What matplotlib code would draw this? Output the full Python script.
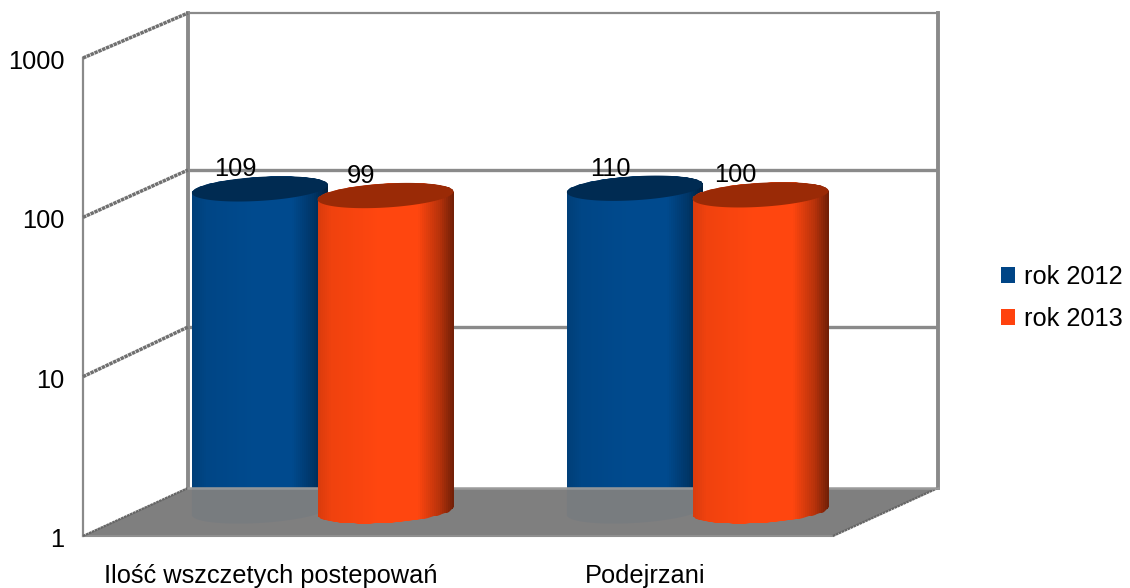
import numpy as np
import matplotlib
matplotlib.use("Agg")
import matplotlib.pyplot as plt
from matplotlib.path import Path
from matplotlib.patches import PathPatch, Patch, Polygon
from matplotlib.transforms import IdentityTransform, Affine2D

categories = ["Ilość wszczetych postepowań", "Podejrzani"]
rok2012 = [109, 110]
rok2013 = [99, 100]
yTicks = [1, 10, 100, 1000]
seriesNames = ["rok 2012", "rok 2013"]

plt.rcParams["font.family"] = ["Liberation Sans", "DejaVu Sans"]

W, H = 1130, 588
GRAY = "#8a8a8a"
FLOOR = "#7f7f7f"
FS = 18.3


def axesAt(fig, left, top, right, bottom):
    return fig.add_axes([left / W, 1 - bottom / H, (right - left) / W, (bottom - top) / H])


fig = plt.figure(figsize=(W / 100, H / 100), dpi=100, facecolor="white")

# dwie osie: sciana tylna i plaszczyzna przednia (efekt 3D)
back = axesAt(fig, 188, 13, 938, 488)
front = axesAt(fig, 83, 58, 833, 536)
for a in (back, front):
    a.set_yscale("log")
    a.set_xlim(0, 2)
    a.minorticks_off()
    a.patch.set_visible(False)
    for s in a.spines.values():
        s.set_visible(False)
back.set_ylim(10 ** (-4 / 157), yTicks[-1])
front.set_ylim(yTicks[0], yTicks[-1])
back.set_zorder(1)
front.set_zorder(2)
back.set_xticks([])
back.set_yticks([])

front.set_yticks(yTicks)
front.set_yticklabels([str(v) for v in yTicks], fontsize=FS)
front.set_xticks([0.5, 1.5])
front.set_xticklabels(categories, fontsize=FS)
front.tick_params(axis="y", length=0, pad=13.5)
front.tick_params(axis="x", length=0, pad=20.5)
for lab in front.get_yticklabels():
    lab.set_transform(lab.get_transform() + Affine2D().translate(0, -1.5))

# sciana tylna
floorBack = back.get_ylim()[0]
for v in yTicks[1:-1]:
    back.plot([0, 2], [v, v], color=GRAY, lw=2.4, clip_on=False, solid_capstyle="butt")
back.plot([0, 2], [1000, 1000], color=GRAY, lw=1.6, clip_on=False)
back.plot([0, 0], [floorBack, 1000], color=GRAY, lw=2.8, clip_on=False)
back.plot([2, 2], [floorBack, 1000], color=GRAY, lw=2.8, clip_on=False)

pix = front.transData.transform
pixBack = back.transData.transform

# sciana boczna
front.plot([0, 0], [1, 1000], color=GRAY, lw=1.6, clip_on=False, zorder=1)
for v in yTicks[1:]:
    p0 = pix((0, v))
    p1 = pixBack((0, v))
    front.plot([p0[0], p1[0]], [p0[1], p1[1]], color="#707070", lw=2.5, ls=(0, (1.0, 0.2)),
               transform=IdentityTransform(), clip_on=False, zorder=1)

floorPts = [pix((0, 1)), pix((2, 1)), pixBack((2, floorBack)), pixBack((0, floorBack))]

CENTERS = [[0.325, 1.325], [0.660, 1.660]]
SHIFT_X = 55
SHIFT_BASE = 25
SHIFT_TOP = 22.5
RX, RY, TILT = 68, 12, 4
rampPos = [0.0, 0.10, 0.45, 0.74, 0.90, 1.0]
rampVal = [0.85, 0.94, 1.0, 1.0, 0.72, 0.45]


def ellipsePoints(cx, cy, t):
    return np.column_stack([cx + RX * np.cos(t), cy + RY * np.sin(t) + TILT * np.cos(t)])


def cylinder(xc, value, color, topColor, z):
    base = pix((xc, 1)) + (SHIFT_X, SHIFT_BASE)
    top = pix((xc, value)) + (SHIFT_X, SHIFT_TOP)
    lower = ellipsePoints(base[0], base[1], np.linspace(np.pi, 2 * np.pi, 50))
    upper = ellipsePoints(top[0], top[1], np.linspace(0, np.pi, 50))
    bodyPath = Path(np.vstack([lower, upper, lower[:1]]))

    rgb = np.array(matplotlib.colors.to_rgb(color))
    xs = np.linspace(base[0] - RX, base[0] + RX, 70)
    shade = np.interp(np.linspace(0, 1, 69), rampPos, rampVal)
    colors = np.clip(shade[None, :, None] * rgb, 0, 1)
    ys = [base[1] - RY - TILT - 2, top[1] + RY + TILT + 2]
    clip = PathPatch(bodyPath, transform=IdentityTransform(), fc="none", ec="none")
    front.add_patch(clip)
    mesh = front.pcolormesh(xs, ys, colors, transform=IdentityTransform(), zorder=z, shading="flat")
    mesh.set_clip_path(clip)

    # pokrywa walca
    capPts = ellipsePoints(top[0], top[1], np.linspace(0, 2 * np.pi, 100))
    front.add_patch(Polygon(capPts, closed=True, transform=IdentityTransform(), fc=topColor,
                            ec="none", zorder=z + 0.1, clip_on=False))
    return bodyPath


# niebieskie walce sa za podloga, pomaranczowe przed nia
bluePaths = []
for xc, v in zip(CENTERS[0], rok2012):
    bluePaths.append(cylinder(xc, v, "#004a8e", "#002b52", 3))

front.add_patch(Polygon(floorPts, closed=True, transform=IdentityTransform(), fc=FLOOR,
                        ec="none", zorder=4, clip_on=False))
floorEdge = np.array(floorPts)
front.plot(floorEdge[:2, 0], floorEdge[:2, 1], color="#8f8f8f", lw=1.5,
           transform=IdentityTransform(), clip_on=False, zorder=4.1)
for i, j in ((1, 2), (3, 0)):
    front.plot(floorEdge[[i, j], 0], floorEdge[[i, j], 1], color="#666666", lw=1.6, ls=(0, (1.2, 0.25)),
               transform=IdentityTransform(), clip_on=False, zorder=4.1)
front.plot(floorEdge[2:4, 0], floorEdge[2:4, 1], color="#9a9a9a", lw=1.8,
           transform=IdentityTransform(), clip_on=False, zorder=4.1)

# lekko niebieski odcien na podlodze pod walcem
floorClip = Polygon(floorPts, closed=True, transform=IdentityTransform(), fc="none", ec="none")
front.add_patch(floorClip)
for bp in bluePaths:
    tint = PathPatch(bp, transform=IdentityTransform(), fc="#004586", ec="none", alpha=0.05, zorder=4.2)
    front.add_patch(tint)
    tint.set_clip_path(floorClip)

for xc, v in zip(CENTERS[1], rok2013):
    cylinder(xc, v, "#ff460f", "#9a2a06", 5)

# etykiety wartosci
for xs, vals in zip(CENTERS, (rok2012, rok2013)):
    for xc, v in zip(xs, vals):
        front.annotate(str(v), xy=(xc, v), xytext=(30, 42), textcoords="offset pixels",
                       ha="center", va="center", fontsize=FS, color="black", zorder=8,
                       annotation_clip=False)

handles = [Patch(facecolor="#004586", label=seriesNames[0]),
           Patch(facecolor="#ff420e", label=seriesNames[1])]
fig.legend(handles=handles, loc="center left", bbox_to_anchor=(993 / W, 1 - 298 / H), frameon=False,
           fontsize=FS, handlelength=0.58, handleheight=0.58, handletextpad=0.35, labelspacing=0.69,
           borderaxespad=0, borderpad=0.3)

fig.savefig("out.png", dpi=100)
